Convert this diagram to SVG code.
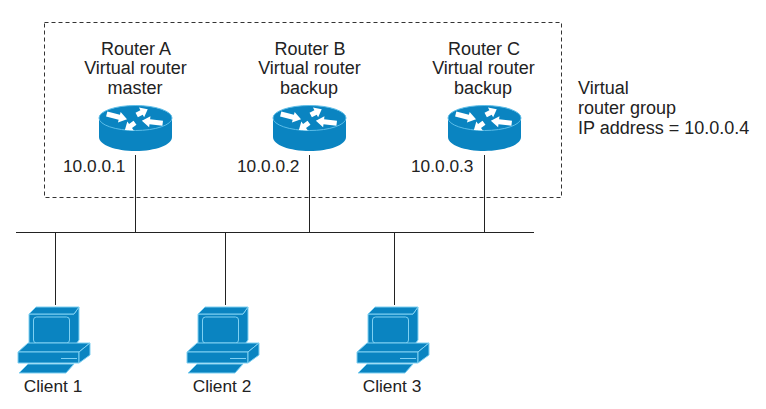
<svg xmlns="http://www.w3.org/2000/svg" width="766" height="409" viewBox="0 0 766 409">
<style>
text{font-family:"Liberation Sans",Arial,sans-serif;font-size:18px;fill:#222}
.ip,.c{font-size:17.3px}
.m{text-anchor:middle}
.w{stroke:#222;stroke-width:1;fill:none}
.b{fill:#0a84c1;stroke:#7fd0f2;stroke-width:1}
.l{fill:none;stroke:#7fd0f2;stroke-width:1}
.a{fill:#fff}
</style>
<defs>
<g id="router">
<path d="M-36.500 0V19C-36.500 27 -20 33 0 33S36.500 27 36.500 19V0Z" fill="#0a84c1"/>
<ellipse cx="0" cy="0" rx="36.500" ry="12.500" fill="#0a84c1" stroke="#5cbde8" stroke-width="1"/>
<path class="a" transform="translate(-28.800 -4) rotate(14.400)" d="M0 -2.500H13V-5.500L21 0L13 5.500V2.500H0Z"/>
<path class="a" transform="translate(1.200 -3) rotate(-28)" d="M0 -2.500H5.500V-5.500L12.500 0L5.500 5.500V2.500H0Z"/>
<path class="a" transform="translate(27.200 5.300) rotate(187)" d="M0 -2.500H13V-5.500L21 0L13 5.500V2.500H0Z"/>
<path class="a" transform="translate(-0.500 4.700) rotate(143.900)" d="M0 -2.500H5.500V-5.500L12.500 0L5.500 5.500V2.500H0Z"/>
</g>
<g id="pc">
<path class="b" d="M19 14H64L69 7V40L64 47H19Z"/>
<path class="b" d="M19 14L26 7H69L64 14Z"/>
<rect class="l" x="23.500" y="17" width="36" height="26" rx="3"/>
<path class="b" d="M8 52L18 43H80L69 52Z"/>
<path class="b" d="M8 52H69V63H8Z"/>
<path class="b" d="M69 52L80 43V55L69 63Z"/>
<path class="l" d="M51 58.500H67"/>
<path class="b" d="M9 73L18 64H64L56 73Z"/>
</g>
</defs>
<g id="connectors" class="w">
<path d="M16 232.500H534"/>
<path d="M135.500 155V232M309.500 155V232M484.500 155V232"/>
<path d="M55.500 232V305M225.500 232V305M394.500 232V305"/>
</g>
<g id="group-box"><rect x="44.500" y="22.500" width="517" height="175" fill="none" stroke="#333" stroke-dasharray="4 3"/></g>
<g id="router-a">
<use href="#router" x="135.500" y="118"/>
<text class="m" x="136" y="55">Router A</text><text class="m" x="135.500" y="74">Virtual router</text><text class="m" x="135" y="94">master</text>
<text class="ip" x="63" y="172">10.0.0.1</text>
</g>
<g id="router-b">
<use href="#router" x="309.500" y="118"/>
<text class="m" x="310" y="55">Router B</text><text class="m" x="309.500" y="74">Virtual router</text><text class="m" x="309" y="94">backup</text>
<text class="ip" x="237" y="172">10.0.0.2</text>
</g>
<g id="router-c">
<use href="#router" x="484.500" y="118"/>
<text class="m" x="484" y="55">Router C</text><text class="m" x="483.500" y="74">Virtual router</text><text class="m" x="483" y="94">backup</text>
<text class="ip" x="411" y="172">10.0.0.3</text>
</g>
<g id="group-label">
<text x="578" y="94">Virtual</text><text x="578" y="114">router group</text><text x="578" y="134">IP address = 10.0.0.4</text>
</g>
<g id="client-1"><use href="#pc" x="10" y="300"/><text class="m c" x="53" y="392">Client 1</text></g>
<g id="client-2"><use href="#pc" x="179" y="300"/><text class="m c" x="222" y="392">Client 2</text></g>
<g id="client-3"><use href="#pc" x="349" y="300"/><text class="m c" x="392" y="392">Client 3</text></g>
</svg>
